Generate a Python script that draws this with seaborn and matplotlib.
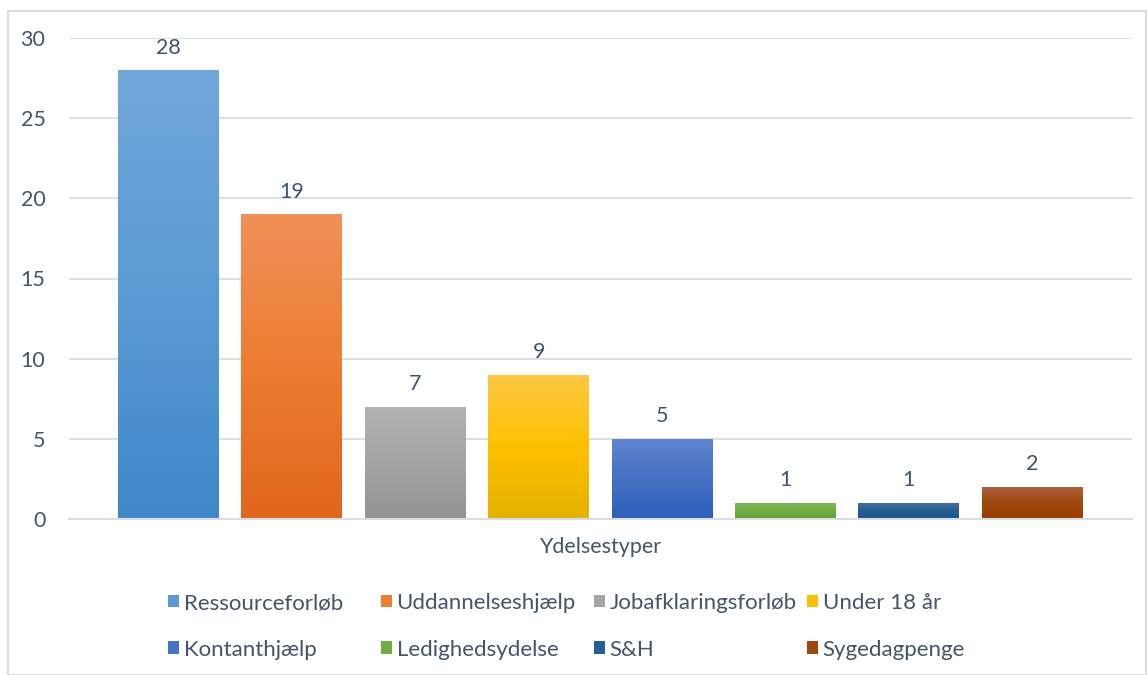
import matplotlib.pyplot as plt
import matplotlib.patches as mpatches
from matplotlib.colors import LinearSegmentedColormap
import numpy as np
import seaborn as sns

categories = ["Ressourceforløb", "Uddannelseshjælp", "Jobafklaringsforløb", "Under 18 år",
              "Kontanthjælp", "Ledighedsydelse", "S&H", "Sygedagpenge"]
values = [28, 19, 7, 9, 5, 1, 1, 2]
# (top, mid, bottom) colours of the Excel-style gradient fill
top_colors = ["#72a7dc", "#f19058", "#b3b3b3", "#ffc846", "#6285cf", "#83bb5e", "#4c729e", "#ae6243"]
mid_colors = ["#5b9bd5", "#ed7d31", "#a5a5a5", "#ffc000", "#4472c4", "#70ad47", "#255e91", "#9e480e"]
bottom_colors = ["#3f87c8", "#e0661b", "#939393", "#e3b200", "#2f5fbd", "#60a032", "#1a558c", "#9b3d00"]
x_label = "Ydelsestyper"
y_ticks = [0, 5, 10, 15, 20, 25, 30]

TEXT = "#44546a"
GRID = "#d9dde3"
FS = 15.5

sns.set_theme(style="white")
plt.rcParams["font.family"] = ["Lato", "DejaVu Sans"]

W, H = 1147, 675
fig = plt.figure(figsize=(W / 100, H / 100), dpi=100)
ax = fig.add_axes([69 / W, 1 - 519 / H, (1132 - 69) / W, (519 - 38) / H])

sns.barplot(x=categories, y=values, hue=categories, palette=mid_colors,
            width=0.818, legend=False, ax=ax, zorder=3)

# gradient fill clipped to each bar
grad = np.linspace(0, 1, 256).reshape(-1, 1)
for patch, c_b, c_m, c_t in zip(ax.patches, bottom_colors, mid_colors, top_colors):
    x0, y0 = patch.get_x(), patch.get_y()
    w, h = patch.get_width(), patch.get_height()
    cmap = LinearSegmentedColormap.from_list("g", [c_b, c_m, c_t])
    im = ax.imshow(grad, cmap=cmap, extent=[x0, x0 + w, y0, y0 + h],
                   origin="lower", aspect="auto", zorder=4)
    im.set_clip_path(patch)
    patch.set_edgecolor("none")

for cont in ax.containers:
    ax.bar_label(cont, padding=9, fontsize=FS, color=TEXT, zorder=5)

ax.set_xlim(-0.806, 7.808)
ax.set_ylim(0, 30)
ax.set_yticks(y_ticks)
ax.set_xticks([])
ax.tick_params(axis="y", length=0, pad=17, labelsize=FS, labelcolor=TEXT)
ax.grid(axis="y", color=GRID, linewidth=1.3, zorder=0)
ax.set_axisbelow(True)
for s in ["left", "top", "right"]:
    ax.spines[s].set_visible(False)
ax.spines["bottom"].set_color(GRID)
ax.spines["bottom"].set_linewidth(1.5)
ax.spines["bottom"].set_zorder(6)
ax.set_xlabel(x_label, fontsize=FS, color=TEXT, labelpad=13)
ax.set_ylabel("")

# legend: four evenly spaced columns, two rows, like Excel
col_x = [168, 381, 594, 807]
for ci in range(4):
    handles = []
    for ri in range(2):
        k = ci + ri * 4
        handles.append(mpatches.Patch(facecolor=mid_colors[k], edgecolor="none",
                                      label=categories[k]))
    fig.legend(handles=handles, loc="upper left",
               bbox_to_anchor=(col_x[ci] / W, 1 - 593 / H),
               frameon=False, fontsize=16, labelcolor=TEXT,
               handlelength=0.5, handleheight=0.5, handletextpad=0.2,
               labelspacing=1.2, borderpad=0, borderaxespad=0)

# outer chart border
fig.patches.append(mpatches.Rectangle((8 / W, 0.5 / H), (W - 9) / W, (H - 11) / H,
                                      transform=fig.transFigure, fill=False,
                                      edgecolor=GRID, linewidth=1.5))

fig.savefig("out.png", dpi=100)
